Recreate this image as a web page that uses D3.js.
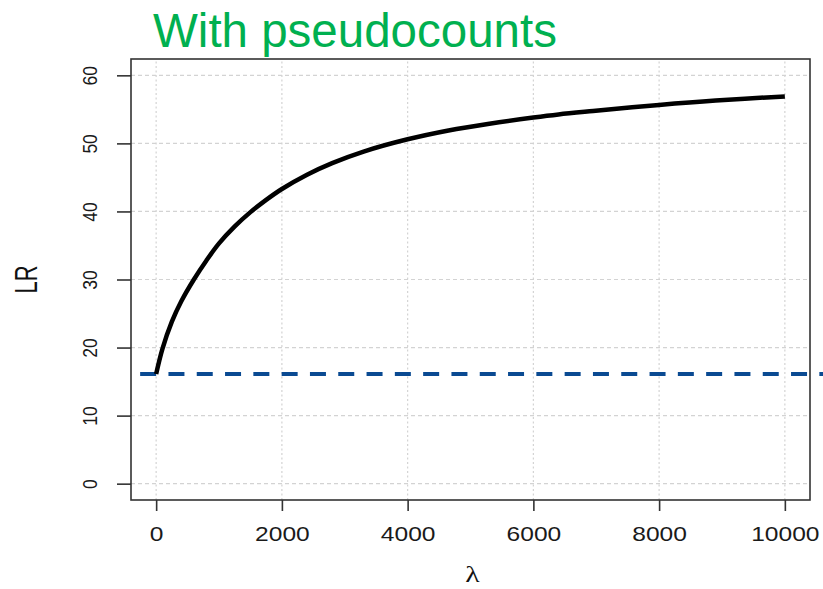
<!DOCTYPE html>
<html>
<head>
<meta charset="utf-8">
<script src="https://cdn.jsdelivr.net/npm/d3@7"></script>
<style>
  html, body { margin: 0; padding: 0; background: #fff; }
  svg { display: block; font-family: "Liberation Sans", Arial, Helvetica, sans-serif; }
</style>
</head>
<body>
<svg id="chart" width="823" height="589"></svg>
<script>
// Likelihood ratio as a function of the pseudocount weight lambda
const lambdaValues = [0, 100, 250, 400, 600, 800, 1000, 1250, 1500, 1750, 2000, 2400,
                      2800, 3300, 4000, 4650, 5300, 6000, 6400, 6950, 8000, 8900, 10000];
const lrValues     = [16.1, 19.8, 23.8, 26.8, 30.0, 32.8, 35.3, 37.8, 39.9, 41.7, 43.3, 45.4,
                      47.1, 48.8, 50.6, 51.9, 52.9, 53.8, 54.25, 54.75, 55.65, 56.3, 56.9];
// LR without pseudocounts (reference level)
const baselineLR = 16.1;

const xTicks = [0, 2000, 4000, 6000, 8000, 10000];
const yTicks = [0, 10, 20, 30, 40, 50, 60];
const titleText = "With pseudocounts";
const xLabel = "\u03bb";
const yLabel = "LR";

const svg = d3.select("#chart");
const W = 823;

// R-style 4% padding around the data ranges
const x = d3.scaleLinear().domain([-400, 10400]).range([131, 810]);
const y = d3.scaleLinear().domain([-2.4, 62.4]).range([500, 59]);

// grid
const grid = svg.append("g");
grid.selectAll("line.h").data(yTicks).join("line")
  .attr("x1", x.range()[0]).attr("x2", x.range()[1])
  .attr("y1", d => y(d)).attr("y2", d => y(d))
  .attr("stroke", "#d3d3d3").attr("stroke-width", 1.2)
  .attr("stroke-dasharray", "4,3");
grid.selectAll("line.v").data(xTicks).join("line")
  .attr("y1", y.range()[0]).attr("y2", y.range()[1])
  .attr("x1", d => x(d)).attr("x2", d => x(d))
  .attr("stroke", "#d3d3d3").attr("stroke-width", 1.2)
  .attr("stroke-dasharray", "2,2.5");

// reference level
svg.append("line")
  .attr("x1", x(0) - 16).attr("x2", W)
  .attr("y1", y(baselineLR)).attr("y2", y(baselineLR))
  .attr("stroke", "#0a4a92").attr("stroke-width", 4)
  .attr("stroke-dasharray", "16,12.3");

// curve
const pts = lambdaValues.map((l, i) => [l, lrValues[i]]);
svg.append("path")
  .datum(pts)
  .attr("fill", "none")
  .attr("stroke", "#000")
  .attr("stroke-width", 4.5)
  .attr("stroke-linejoin", "round")
  .attr("d", d3.line().x(d => x(d[0])).y(d => y(d[1])).curve(d3.curveCatmullRom.alpha(0.5)));

// plot box
svg.append("rect")
  .attr("x", x.range()[0]).attr("y", y.range()[1])
  .attr("width", x.range()[1] - x.range()[0])
  .attr("height", y.range()[0] - y.range()[1])
  .attr("fill", "none").attr("stroke", "#333").attr("stroke-width", 1.6);

// x axis
const xAxis = svg.append("g").attr("transform", `translate(0,${y.range()[0]})`)
  .call(d3.axisBottom(x).tickValues(xTicks).tickSize(11).tickFormat(d3.format("d")));
xAxis.select(".domain").remove();
xAxis.selectAll(".tick line").attr("stroke", "#333").attr("stroke-width", 1.6);
xAxis.selectAll(".tick text")
  .attr("y", 0).attr("dy", 0)
  .attr("transform", "translate(0,40.7) scale(1.26,1)")
  .attr("font-size", 19.5)
  .attr("font-family", "Liberation Sans, Arial, sans-serif")
  .attr("fill", "#1a1a1a");

// y axis
const yAxis = svg.append("g").attr("transform", `translate(${x.range()[0]},0)`)
  .call(d3.axisLeft(y).tickValues(yTicks).tickSize(14));
yAxis.select(".domain").remove();
yAxis.selectAll(".tick line").attr("stroke", "#333").attr("stroke-width", 1.6);
yAxis.selectAll(".tick text")
  .attr("x", 0).attr("dy", 0)
  .attr("text-anchor", "middle")
  .attr("transform", "translate(-34,0) scale(1.16,1) rotate(-90)")
  .attr("font-size", 17.5)
  .attr("font-family", "Liberation Sans, Arial, sans-serif")
  .attr("fill", "#1a1a1a");

// axis titles
svg.append("text")
  .attr("transform", `translate(37,${(y.range()[0] + y.range()[1]) / 2}) scale(1.4,1) rotate(-90)`)
  .attr("text-anchor", "middle")
  .attr("font-size", 22)
  .attr("fill", "#111")
  .text(yLabel);

svg.append("text")
  .attr("transform", `translate(${(x.range()[0] + x.range()[1]) / 2 + 2},582) scale(1.3,1)`)
  .attr("text-anchor", "middle")
  .attr("font-size", 23)
  .attr("font-family", "Liberation Serif, DejaVu Serif, serif")
  .attr("fill", "#111")
  .text(xLabel);

// title
svg.append("text")
  .attr("x", 153).attr("y", 47)
  .attr("font-size", 47.5)
  .attr("fill", "#00b050")
  .text(titleText);
</script>
</body>
</html>
